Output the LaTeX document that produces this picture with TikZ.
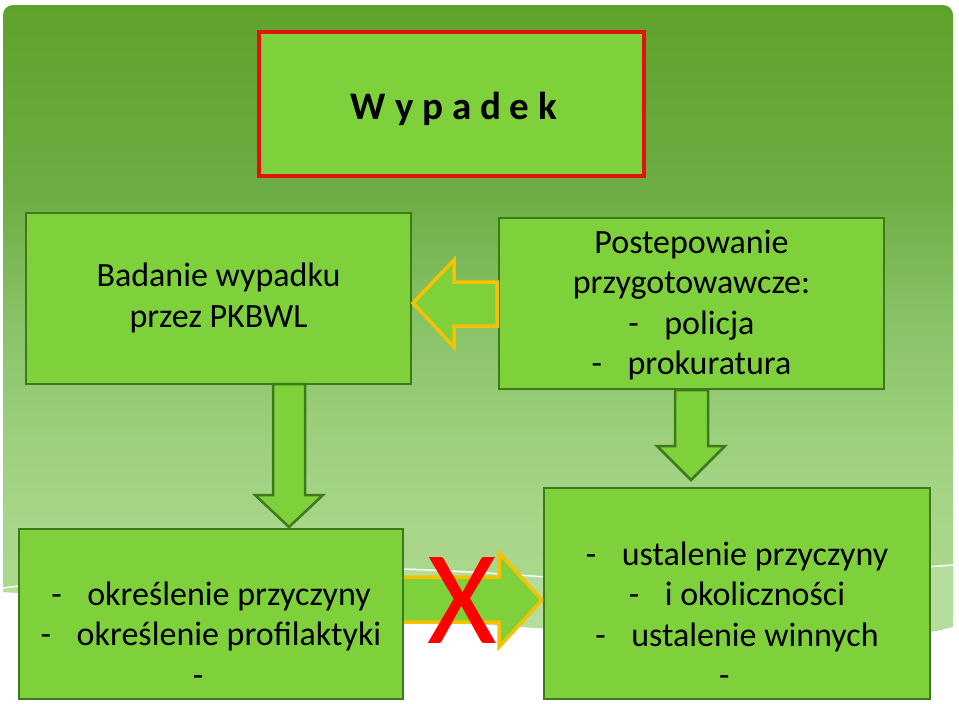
\documentclass[tikz,border=0pt]{standalone}
\usepackage{fontspec}
\setmainfont{Carlito}
\usetikzlibrary{calc}
\definecolor{bgtop}{HTML}{5EA22B}
\definecolor{bgA}{HTML}{6DAD44}
\definecolor{bgB}{HTML}{84BF62}
\definecolor{bgC}{HTML}{9BCE7B}
\definecolor{bgD}{HTML}{A8D68A}
\definecolor{bgbot}{HTML}{ABD88E}
\definecolor{bandc}{HTML}{B5DD9C}
\definecolor{boxfill}{HTML}{7FD13B}
\definecolor{boxline}{HTML}{3D7A1A}
\definecolor{redline}{HTML}{E5110F}
\definecolor{yel}{HTML}{F6C200}
\definecolor{xred}{HTML}{FF0000}
\pgfdeclareverticalshading{bgshade}{100bp}{color(0bp)=(bgbot); color(25bp)=(bgbot); color(34bp)=(bgD); color(42bp)=(bgC); color(52bp)=(bgB); color(60bp)=(bgA); color(75bp)=(bgtop); color(100bp)=(bgtop)}
\newcommand{\dashitem}{\makebox[36pt][l]{-}}
\begin{document}
\begin{tikzpicture}[x=1pt,y=-1pt,
  gbox/.style={draw=boxline, line width=2.7pt, fill=boxfill, inner sep=0pt},
  rbox/.style={draw=redline, line width=3.2pt, fill=boxfill, inner sep=0pt},
  txt/.style={align=center, font=\fontsize{34}{40.5}\selectfont, text=black, inner sep=0pt},
  yarrow/.style={draw=yel, line width=3.5pt, fill=boxfill, line join=miter},
  darrow/.style={draw=boxline, line width=2.5pt, fill=boxfill, line join=miter}]
\useasboundingbox (0,0) rectangle (959,704);
\fill[white] (0,0) rectangle (959,704);
% background
\path[shading=bgshade] (3,592) [rounded corners=10pt] -- (3,5) -- (953,5) -- (953,627) [sharp corners]
  .. controls (920,635) and (850,640) .. (700,636) .. controls (500,630) and (200,600) .. (3,592) -- cycle;
\fill[bandc] (3,588) .. controls (250,555) and (450,570) .. (560,578) .. controls (700,588) and (850,572) .. (953,565)
  -- (953,627) .. controls (920,635) and (850,640) .. (700,636) .. controls (500,630) and (200,600) .. (3,592) -- cycle;
\draw[white, line width=1.5pt] (3,588) .. controls (250,555) and (450,570) .. (560,578) .. controls (700,588) and (850,572) .. (953,565);

% boxes
\node[rbox, minimum width=385pt, minimum height=144pt] (wyp) at (451.5,104) {};
\node[inner sep=0pt, font=\bfseries\fontsize{39}{44}\selectfont] (wypt) at (454,109) {W y p a d e k};
\node[gbox, minimum width=385pt, minimum height=171pt] (pkbwl) at (218.5,298.5) {};
\node[gbox, minimum width=385pt, minimum height=171pt] (postep) at (691.5,303.5) {};

% down arrows
\draw[darrow] (273,384) -- (273,495) -- (255,495) -- (289,527) -- (323,495) -- (305,495) -- (305,384) -- cycle;
\draw[darrow] (675,390) -- (675,446) -- (657,446) -- (691,480) -- (725,446) -- (708,446) -- (708,390) -- cycle;
% right arrow (crossed)
\draw[yarrow] (398,577) -- (499,577) -- (499,553) -- (542,600) -- (499,647) -- (499,622) -- (398,622) -- cycle;

\node[gbox, minimum width=384pt, minimum height=170pt] (okresl) at (211,614) {};
\node[gbox, minimum width=386pt, minimum height=211pt] (ustal) at (737,593.5) {};

% left arrow
\draw[yarrow] (413,303) -- (454,260) -- (454,282) -- (497,282) -- (497,326) -- (454,326) -- (454,347) -- cycle;

% texts
\node[txt] (pkbwlt) at (218.5,298) {Badanie wypadku\\przez PKBWL};
\node[txt] (postept) at (691.5,305) {Postepowanie\\przygotowawcze:\\\dashitem policja\\\dashitem prokuratura};
\node[txt] (okreslt) at (211,634) {\dashitem określenie przyczyny\\\dashitem określenie profilaktyki\\\dashitem};
\node[txt] (ustalt) at (737,614) {\dashitem ustalenie przyczyny\\\dashitem i okoliczności\\\dashitem ustalenie winnych\\\dashitem};

% red X
\node[text=xred, font=\fontsize{134}{134}\selectfont, inner sep=0pt, anchor=base] (nox) at (462,643) {X};
\end{tikzpicture}
\end{document}
